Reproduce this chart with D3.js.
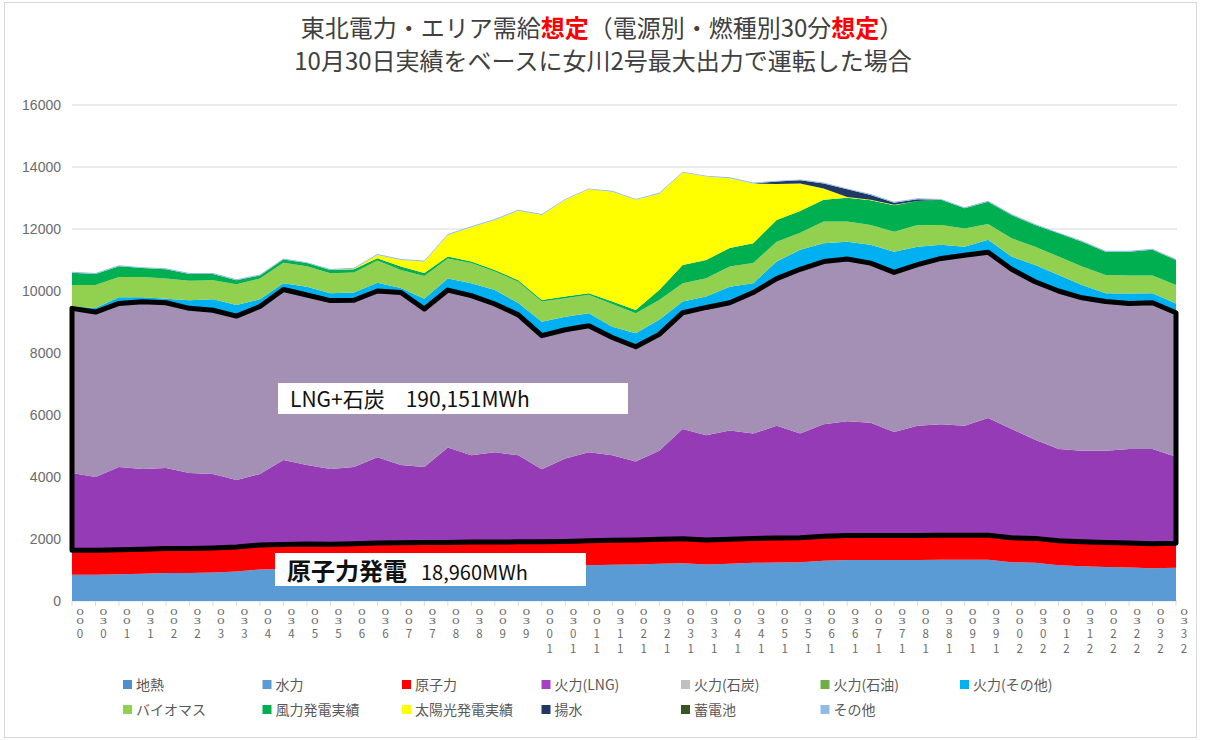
<!DOCTYPE html>
<html>
<head>
<meta charset="utf-8">
<script src="https://cdn.jsdelivr.net/npm/d3@7"></script>
<style>
body{margin:0;background:#fff}
text{font-family:"Noto Sans CJK JP","Noto Sans",sans-serif}
</style>
</head>
<body>
<div id="chart"></div>
<script>
// 時刻ラベル
var times = ["0:00","0:30","1:00","1:30","2:00","2:30","3:00","3:30","4:00","4:30","5:00","5:30",
  "6:00","6:30","7:00","7:30","8:00","8:30","9:00","9:30","10:00","10:30","11:00","11:30",
  "12:00","12:30","13:00","13:30","14:00","14:30","15:00","15:30","16:00","16:30","17:00","17:30",
  "18:00","18:30","19:00","19:30","20:00","20:30","21:00","21:30","22:00","22:30","23:00","23:30"]

//電源別 (MW)
var geothermal = [130,130,130,130,130,130,130,130,130,130,130,130,130,130,130,130,130,130,130,130,130,130,130,130,
  130,130,130,130,130,130,130,130,130,130,130,130,130,130,130,130,130,130,130,130,130,130,130,130]
var hydro = [720,720,730,750,770,770,790,820,890,900,920,910,930,950,960,970,970,980,980,990,990,1000,1020,1040,
  1050,1070,1090,1050,1070,1100,1110,1120,1170,1190,1190,1190,1190,1200,1200,1200,1120,1100,1020,990,970,950,930,940]
var nuclear = [790,790,790,790,790,790,790,790,790,790,790,790,790,790,790,790,790,790,790,790,790,790,790,790,
  790,790,790,790,790,790,790,790,790,790,790,790,790,790,790,790,790,790,790,790,790,790,790,790]
var lng = [2490,2360,2670,2590,2600,2440,2390,2160,2290,2730,2550,2430,2470,2770,2510,2430,3060,2800,2900,2790,2340,2680,2860,2740,
  2530,2860,3540,3380,3510,3380,3620,3360,3610,3690,3640,3340,3540,3580,3530,3780,3510,3180,2960,2940,2960,3030,3050,2790]
var coal = [5310,5320,5280,5390,5330,5310,5280,5290,5400,5500,5480,5430,5380,5360,5560,5100,5080,5150,4780,4530,4310,4150,4080,3800,
  3700,3750,3750,4120,4120,4550,4750,5300,5250,5230,5150,5150,5200,5350,5500,5350,5150,5100,5100,4930,4810,4700,4720,4650]
var oil = [30,30,30,30,30,30,30,30,30,30,30,30,30,30,30,30,30,30,30,30,30,30,30,30,
  30,30,30,30,30,30,30,30,30,30,30,30,30,30,30,30,30,30,30,30,30,30,30,30]
var otherThermal = [30,100,170,120,100,230,320,330,200,170,240,210,220,240,120,300,340,370,420,350,420,390,370,320,
  410,440,330,320,490,270,520,600,560,530,560,640,550,410,250,370,380,510,490,380,240,290,280,270]
var biomass = [690,740,650,650,650,630,620,670,670,660,660,640,650,710,580,730,650,650,600,690,650,600,600,730,
  640,640,590,590,650,650,640,550,700,650,640,640,700,640,590,510,590,590,590,600,590,580,570,590]
var wind = [400,360,350,290,300,220,200,130,100,110,100,110,100,80,110,100,60,50,50,50,50,50,50,80,
  110,320,590,590,600,640,700,700,700,770,800,860,770,810,650,720,750,700,750,800,750,770,830,810]
var solar = [0,0,0,0,0,0,0,0,0,0,0,0,20,100,210,370,700,1110,1610,2240,2740,3120,3350,3540,
  3550,3110,2980,2690,2250,1930,1160,890,370,20,10,10,0,0,0,0,0,0,0,0,0,0,0,0]
var pumped = [0,0,0,0,0,0,0,0,0,0,0,0,0,0,0,0,0,0,0,0,0,0,0,0,
  0,0,0,0,0,0,80,100,160,250,160,70,60,0,0,0,0,0,0,0,0,0,0,0]
var battery = [0,0,0,0,0,0,0,0,0,0,0,0,0,0,0,0,0,0,0,0,0,0,0,0,
  0,0,0,0,0,0,0,0,0,0,0,0,0,0,0,0,0,0,0,0,0,0,0,0]
var others = [30,30,30,30,30,30,30,30,30,30,30,30,30,30,30,30,30,30,30,30,30,30,30,30,
  30,30,30,30,30,30,30,30,30,30,30,30,30,30,30,30,30,30,30,30,30,30,30,30]

var names = ["地熱","水力","原子力","火力(LNG)","火力(石炭)","火力(石油)","火力(その他)",
  "バイオマス","風力発電実績","太陽光発電実績","揚水","蓄電池","その他"]
var series = [geothermal,hydro,nuclear,lng,coal,oil,otherThermal,biomass,wind,solar,pumped,battery,others]
var yTicks = [0,2000,4000,6000,8000,10000,12000,14000,16000]

//色
var legendColors = ["#4f8fd0","#5b9bd5","#ff0000","#a640c4","#c0c0c0","#70ad47","#00b0f0",
  "#92d050","#00b050","#ffff00","#203864","#375623","#8fbbe6"]
var areaColors = legendColors.slice()
areaColors[0] = "#5b9bd5"
areaColors[3] = "#953bb5"
areaColors[4] = "#a48fb5"   //枠で囲んだ石炭

var W = 1207, H = 740
var svg = d3.select("#chart").append("svg")
  .attr("width",W).attr("height",H)

svg.append("rect").attr("x",0).attr("y",0).attr("width",W).attr("height",H).attr("fill","#fff")
svg.append("rect").attr("x",4.5).attr("y",2.5).attr("width",1192).attr("height",735)
  .attr("fill","none").attr("stroke","#d9d9d9")

var x = d3.scalePoint().domain(times).range([72,1176])
var y = d3.scaleLinear().domain([0,16000]).range([601,105])

//グリッド
svg.append("g").selectAll("line").data(yTicks).join("line")
  .attr("x1",72).attr("x2",1177)
  .attr("y1",d=>y(d)).attr("y2",d=>y(d))
  .attr("stroke","#d9d9d9").attr("stroke-width",1)

svg.append("g").selectAll("text").data(yTicks).join("text")
  .attr("x",61).attr("y",d=>y(d)+5)
  .attr("text-anchor","end")
  .style("font-family","'Liberation Sans',sans-serif")
  .style("font-size","14px")
  .attr("fill","#6b6b6b")
  .text(d=>d)

//積み上げ
var rows = times.map((t,i)=>{
  var r = {t:t}
  names.forEach((n,k)=>{ r[n] = series[k][i] })
  return r
})
var stack = d3.stack().keys(names)
var layers = stack(rows)
var area = d3.area()
  .x(d=>x(d.data.t))
  .y0(d=>y(d[0]))
  .y1(d=>y(d[1]))

svg.append("g").selectAll("path").data(layers).join("path")
  .attr("fill",(d,i)=>areaColors[i])
  .attr("d",area)

//LNG+石炭の枠
var lngLayer = layers[3], coalLayer = layers[4]
var outline = d3.area()
  .x((d,i)=>x(times[i]))
  .y0((d,i)=>y(lngLayer[i][0]))
  .y1((d,i)=>y(coalLayer[i][1]))
svg.append("path")
  .attr("d",outline(times))
  .attr("fill","none")
  .attr("stroke","#000")
  .attr("stroke-width",5)
  .attr("stroke-linejoin","round")

//x軸
svg.append("g").selectAll("line").data(times).join("line")
  .attr("x1",d=>x(d)).attr("x2",d=>x(d))
  .attr("y1",601).attr("y2",606)
  .attr("stroke","#d9d9d9")

//縦書きラベル(下から読む)
var xl = svg.append("g").selectAll("g").data(times).join("g")
  .attr("transform",d=>"translate("+(x(d)+8)+",0)")
  .style("font-family","'Liberation Sans Narrow','Liberation Sans',sans-serif")
  .attr("fill","#6b6b6b")
  .attr("text-anchor","middle")
xl.each(function(d){
  var chars = d.replace(":","").split("").reverse()
  var g = d3.select(this)
  var top = g.append("text").attr("transform","translate(0,615) scale(1,0.55)")
    .style("font-size","14px")
  top.append("tspan").attr("x",0).attr("y",0).text(chars[0])
  top.append("tspan").attr("x",0).attr("y",17).text(chars[1])
  for(var k=2;k<chars.length;k++){
    g.append("text").style("font-size","11.5px")
      .attr("y",638+(k-2)*14.5).text(chars[k])
  }
})

//注釈ボックス
svg.append("rect").attr("x",278).attr("y",383).attr("width",350).attr("height",31).attr("fill","#fff")
svg.append("text").attr("x",290).attr("y",407)
  .style("font-size","21px").attr("fill","#111")
  .text("LNG+石炭　190,151MWh")

svg.append("rect").attr("x",275).attr("y",553).attr("width",311).attr("height",33).attr("fill","#fff")
var nt = svg.append("text").attr("x",287).attr("y",580).attr("fill","#111")
nt.append("tspan").style("font-size","24px").style("font-weight","bold").text("原子力発電")
nt.append("tspan").style("font-size","20px").attr("dx",14).text("18,960MWh")

//タイトル
var t1 = svg.append("text").attr("x",602).attr("y",37).attr("text-anchor","middle")
  .style("font-size","24px").attr("fill","#404040")
t1.append("tspan").text("東北電力・エリア需給")
t1.append("tspan").attr("fill","#ff0000").style("font-weight","bold").text("想定")
t1.append("tspan").text("（電源別・燃種別30分")
t1.append("tspan").attr("fill","#ff0000").style("font-weight","bold").text("想定")
t1.append("tspan").text("）")
svg.append("text").attr("x",603).attr("y",70).attr("text-anchor","middle")
  .style("font-size","24px").attr("fill","#404040")
  .text("10月30日実績をベースに女川2号最大出力で運転した場合")

//凡例
var lg = svg.append("g").selectAll("g").data(names).join("g")
  .attr("transform",(d,i)=>"translate("+(123+(i%7)*139.5)+","+(i<7?680:705)+")")
lg.append("rect").attr("width",9).attr("height",9).attr("fill",(d,i)=>legendColors[i])
lg.append("text").attr("x",13).attr("y",9.5)
  .style("font-size","14px").attr("fill","#595959")
  .text(d=>d)
</script>
</body>
</html>
